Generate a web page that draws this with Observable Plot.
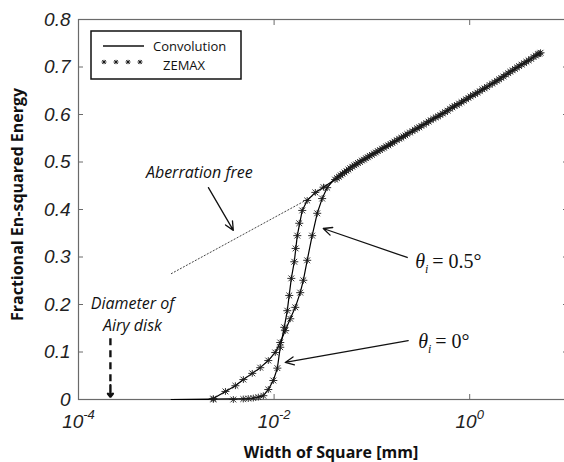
<!DOCTYPE html>
<html><head><meta charset="utf-8">
<script src="https://cdn.jsdelivr.net/npm/d3@7"></script>
<script src="https://cdn.jsdelivr.net/npm/@observablehq/plot@0.6"></script>
<style>
html,body{margin:0;padding:0;background:#fff;overflow:hidden;width:564px;height:462px}
#chart svg{display:block;overflow:visible}
</style></head><body><div id="chart"></div>
<script>
// ---- axes ----
const xTicks = [1e-4, 1e-2, 1];
const xTickLabels = ["10^-4", "10^-2", "10^0"];
const yTicks = [0, 0.1, 0.2, 0.3, 0.4, 0.5, 0.6, 0.7, 0.8];
const yTickLabels = ["0", "0.1", "0.2", "0.3", "0.4", "0.5", "0.6", "0.7", "0.8"];
const xLabel = "Width of Square [mm]";
const yLabel = "Fractional En-squared Energy";

// ---- Convolution (solid lines) ----
const conv0X  = [0.00089, 0.0058, 0.0069, 0.00776, 0.00872, 0.00982, 0.0108, 0.01156, 0.0127, 0.01364, 0.0150, 0.01608, 0.01726, 0.0194, 0.0218, 0.0264, 0.032];
const conv0Y  = [0, 0.002, 0.005, 0.008, 0.021, 0.04, 0.066, 0.11, 0.152, 0.187, 0.255, 0.29, 0.345, 0.398, 0.419, 0.436, 0.447];
const conv05X = [0.00089, 0.0021, 0.00239, 0.00318, 0.00402, 0.00485, 0.00598, 0.00722, 0.00872, 0.01028, 0.01156, 0.0130, 0.01463, 0.01647, 0.0185, 0.0199, 0.0218, 0.0245, 0.0276, 0.031, 0.0349];
const conv05Y = [0, 0, 0.002, 0.017, 0.029, 0.042, 0.055, 0.067, 0.082, 0.099, 0.12, 0.145, 0.17, 0.194, 0.225, 0.251, 0.293, 0.345, 0.392, 0.423, 0.446];
// common upper part of both convolution curves
const convUpperX = [0.0398, 0.0501, 0.0631, 0.0794, 0.1, 0.158, 0.251, 0.398, 0.631, 1, 1.585, 2.512, 3.98, 5.25];
const convUpperY = [0.46, 0.477, 0.491, 0.503, 0.515, 0.539, 0.563, 0.587, 0.612, 0.636, 0.661, 0.688, 0.714, 0.73];

// ---- ZEMAX (asterisk markers) ----
const zem0X  = [0.00239, 0.00383, 0.00484, 0.00544, 0.00613, 0.0069, 0.00776, 0.00872, 0.00982, 0.0108, 0.01156, 0.0127, 0.01364, 0.01429, 0.0150, 0.01608, 0.0166, 0.01726, 0.01808, 0.0194, 0.0218, 0.0264, 0.032];
const zem0Y  = [0, 0, 0.001, 0.002, 0.003, 0.005, 0.008, 0.021, 0.04, 0.066, 0.11, 0.152, 0.187, 0.219, 0.255, 0.29, 0.318, 0.345, 0.371, 0.398, 0.419, 0.436, 0.447];
const zem05X = [0.00239, 0.00318, 0.00402, 0.00485, 0.00598, 0.00722, 0.00872, 0.01028, 0.01156, 0.0130, 0.01463, 0.01647, 0.0185, 0.0199, 0.0218, 0.0245, 0.0276, 0.031, 0.0349];
const zem05Y = [0.002, 0.017, 0.029, 0.042, 0.055, 0.067, 0.082, 0.099, 0.12, 0.145, 0.17, 0.194, 0.225, 0.251, 0.293, 0.345, 0.392, 0.423, 0.446];
// dense band where both ZEMAX series overlap (θi = 0.5°, then θi = 0°)
const zemUpper05X = [0.042, 0.046, 0.05, 0.055, 0.06, 0.066, 0.072, 0.079, 0.087, 0.095, 0.105, 0.115, 0.127, 0.14, 0.155, 0.17, 0.19, 0.21, 0.23, 0.26, 0.29, 0.32, 0.36, 0.4, 0.45, 0.5, 0.56, 0.63, 0.7, 0.78, 0.87, 0.97, 1.08, 1.2, 1.35, 1.5, 1.7, 1.9, 2.1, 2.35, 2.6, 2.9, 3.2, 3.6, 4.0, 4.5, 5.0, 5.3];
const zemUpper05Y = [0.463, 0.469, 0.475, 0.481, 0.487, 0.493, 0.498, 0.503, 0.508, 0.513, 0.518, 0.523, 0.528, 0.533, 0.538, 0.543, 0.549, 0.554, 0.559, 0.565, 0.571, 0.576, 0.582, 0.588, 0.594, 0.599, 0.605, 0.612, 0.618, 0.623, 0.629, 0.635, 0.641, 0.646, 0.653, 0.658, 0.665, 0.671, 0.677, 0.684, 0.69, 0.696, 0.702, 0.708, 0.714, 0.721, 0.727, 0.73];
const zemUpper0X = [0.044, 0.048, 0.0525, 0.0575, 0.063, 0.069, 0.0755, 0.083, 0.091, 0.1, 0.11, 0.121, 0.133, 0.147, 0.162, 0.18, 0.2, 0.22, 0.245, 0.275, 0.305, 0.34, 0.38, 0.425, 0.475, 0.53, 0.595, 0.665, 0.74, 0.825, 0.92, 1.02, 1.14, 1.27, 1.42, 1.6, 1.8, 2.0, 2.22, 2.48, 2.75, 3.05, 3.4, 3.8, 4.25, 4.75, 5.15];
const zemUpper0Y = [0.466, 0.472, 0.478, 0.484, 0.49, 0.495, 0.5, 0.505, 0.51, 0.515, 0.52, 0.525, 0.53, 0.535, 0.54, 0.546, 0.551, 0.556, 0.562, 0.568, 0.573, 0.579, 0.585, 0.591, 0.596, 0.602, 0.608, 0.615, 0.62, 0.626, 0.632, 0.638, 0.643, 0.649, 0.655, 0.662, 0.668, 0.674, 0.68, 0.687, 0.693, 0.699, 0.705, 0.711, 0.717, 0.724, 0.728];

// ---- Aberration free (dotted) ----
const freeX = [0.00089, 0.0218, 0.032];
const freeY = [0.265, 0.421, 0.445];

// ---- annotations (data units) ----
const noteText = ["Aberration free", "Diameter of", "Airy disk"];
const noteX = [0.00172, 0.000356, 0.000356];
const noteY = [0.478, 0.202, 0.156];
const thetaText = ["θ|i|= 0.5°", "θ|i|= 0°"];
const thetaX = [0.2767, 0.297];
const thetaY = [0.2905, 0.1221];
const arrowX1 = [0.00213, 0.2296, 0.235];
const arrowY1 = [0.446, 0.299, 0.124];
const arrowX2 = [0.00383, 0.0318, 0.0130];
const arrowY2 = [0.356, 0.36, 0.078];
const airyX = 0.000212;
const airyY = [0.128, 0.03, 0.006];

const legendLabels = ["Convolution", "ZEMAX"];

// ---- build tables ----
const zip = (X, Y) => X.map((x, i) => ({x, y: Y[i]}));
const conv0 = zip(conv0X.concat(convUpperX), conv0Y.concat(convUpperY));
const conv05 = zip(conv05X.concat(convUpperX), conv05Y.concat(convUpperY));
const zem = zip(zem0X, zem0Y).concat(zip(zem05X, zem05Y), zip(zemUpper05X, zemUpper05Y), zip(zemUpper0X, zemUpper0Y));
const free = zip(freeX, freeY);
const notes = noteText.map((t, i) => ({t, x: noteX[i], y: noteY[i]}));
const thetas = thetaText.map((t, i) => ({t, x: thetaX[i], y: thetaY[i]}));
const arrows = arrowX1.map((x1, i) => ({x1, y1: arrowY1[i], x2: arrowX2[i], y2: arrowY2[i]}));

const star = {draw(ctx, size) {
  const r = Math.sqrt(size / Math.PI), d = r * 0.72;
  ctx.moveTo(-r, 0); ctx.lineTo(r, 0);
  ctx.moveTo(0, -r * 0.85); ctx.lineTo(0, r * 0.85);
  ctx.moveTo(-d, -d); ctx.lineTo(d, d);
  ctx.moveTo(-d, d); ctx.lineTo(d, -d);
}};

const axisColor = "#6a6a6a";
const tickFont = "Liberation Sans, Arial, sans-serif";
const noteFont = "Open Sans, sans-serif";
const blank = () => "";

const plot = Plot.plot({
  width: 564, height: 462,
  marginLeft: 78, marginRight: -3, marginTop: 19, marginBottom: 63,
  style: {background: "#fff", color: "#111", fontFamily: tickFont},
  x: {type: "log", domain: [1e-4, 10]},
  y: {domain: [0, 0.8]},
  marks: [
    Plot.frame({stroke: axisColor, strokeWidth: 1.2}),
    Plot.axisX({anchor: "bottom", ticks: xTicks, tickSize: 5, dy: -5, tickFormat: blank, stroke: axisColor}),
    Plot.axisX({anchor: "top", ticks: xTicks, tickSize: 5, dy: 5, tickFormat: blank, stroke: axisColor}),
    Plot.axisY({anchor: "left", ticks: yTicks, tickSize: 5, dx: 5, tickFormat: blank, stroke: axisColor}),
    Plot.axisY({anchor: "right", ticks: yTicks, tickSize: 5, dx: -5, tickFormat: blank, stroke: axisColor}),
    Plot.text(yTicks, {y: d => d, text: (d, i) => yTickLabels[i], frameAnchor: "left", dx: -8, textAnchor: "end",
      fontStyle: "italic", fontSize: 19, fill: "#222"}),
    Plot.text(xTicks, {x: d => d, text: (d, i) => xTickLabels[i], frameAnchor: "bottom", lineAnchor: "middle", dy: 22,
      fontStyle: "italic", fontSize: 19, fill: "#222"}),
    Plot.text([xLabel], {frameAnchor: "bottom", lineAnchor: "middle", dx: 8, dy: 53, fontFamily: noteFont, fontWeight: "bold", fontSize: 16, fill: "#111"}),
    Plot.text([yLabel], {frameAnchor: "left", textAnchor: "middle", lineAnchor: "middle", rotate: -90, dx: -61, dy: -5, fontFamily: noteFont, fontWeight: "bold", fontSize: 16, fill: "#111"}),
    Plot.line(free, {x: "x", y: "y", stroke: "#444", strokeWidth: 1, strokeDasharray: "1.2,2.2"}),
    Plot.line(conv0, {x: "x", y: "y", stroke: "#000", strokeWidth: 1.2}),
    Plot.line(conv05, {x: "x", y: "y", stroke: "#000", strokeWidth: 1.2}),
    Plot.dot(zem, {x: "x", y: "y", symbol: star, r: 4, fill: "none", stroke: "#1a1a1a", strokeWidth: 0.9}),
    Plot.text(notes, {x: "x", y: "y", text: "t", fontFamily: noteFont, fontStyle: "italic", fontSize: 16, fill: "#111"}),
    Plot.text(thetas, {x: "x", y: "y", text: "t", textAnchor: "start", fontFamily: "Liberation Serif, Times New Roman, serif", fontSize: 20, fill: "#111"}),
    Plot.arrow(arrows, {x1: "x1", y1: "y1", x2: "x2", y2: "y2", stroke: "#111", strokeWidth: 1.3, headLength: 11, headAngle: 50}),
    Plot.ruleX([airyX], {y1: airyY[0], y2: airyY[1], stroke: "#111", strokeWidth: 2.4, strokeDasharray: "7,5"}),
    Plot.arrow([airyX], {x1: d => d, x2: d => d, y1: airyY[1], y2: airyY[2], stroke: "#111", strokeWidth: 2.4, headLength: 9, headAngle: 80})
  ]
});

const svg = d3.select(plot);
// superscripts and subscripts
svg.selectAll("text").each(function() {
  const s = this.textContent;
  if (s.includes("^")) {
    const [b, e] = s.split("^");
    const t = d3.select(this); t.text("");
    t.append("tspan").text(b);
    t.append("tspan").attr("dy", -9).attr("font-size", 13).text(e);
  } else if (s.includes("|")) {
    const [a, b, c] = s.split("|");
    const t = d3.select(this); t.text("");
    t.append("tspan").attr("font-style", "italic").text(a);
    t.append("tspan").attr("font-style", "italic").attr("font-size", 12).attr("dy", 5).text(b);
    t.append("tspan").attr("dy", -5).attr("dx", 4).text(c);
  }
});

// legend box
const lg = svg.append("g").attr("font-family", noteFont).attr("font-size", 13).attr("fill", "#111").attr("text-anchor", "start");
lg.append("rect").attr("x", 91).attr("y", 31).attr("width", 150).attr("height", 48)
  .attr("fill", "#fff").attr("stroke", "#111").attr("stroke-width", 1.5);
lg.append("line").attr("x1", 103).attr("x2", 144).attr("y1", 46).attr("y2", 46).attr("stroke", "#111").attr("stroke-width", 1.4);
lg.append("text").attr("x", 153).attr("y", 51).attr("text-anchor", "start").text(legendLabels[0]);
[104, 116, 128, 140].forEach(cx => {
  lg.append("path").attr("transform", `translate(${cx},62)`)
    .attr("d", "M-2.5,0H2.5M0,-2.2V2.2M-1.8,-1.8L1.8,1.8M-1.8,1.8L1.8,-1.8")
    .attr("stroke", "#111").attr("stroke-width", 0.9).attr("fill", "none");
});
lg.append("text").attr("x", 163).attr("y", 70).attr("text-anchor", "start").text(legendLabels[1]);

document.getElementById("chart").append(plot);
</script></body></html>
